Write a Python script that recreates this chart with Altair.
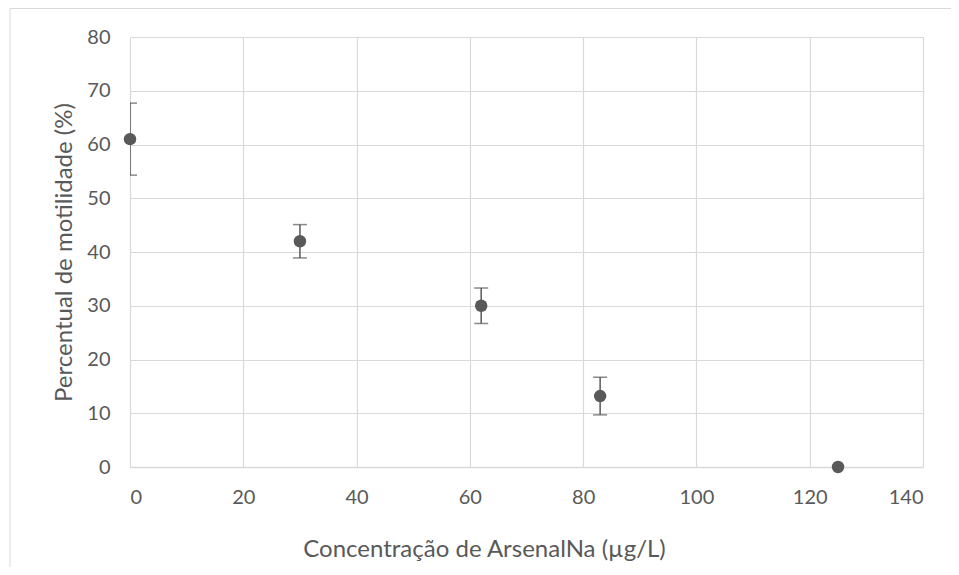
import altair as alt
import pandas as pd

conc = [0, 30, 62, 83, 125]
motil = [61, 42, 30, 13.2, 0]
err = [6.7, 3.1, 3.3, 3.5, 0]

df = pd.DataFrame({
    "conc": conc,
    "motil": motil,
    "lo": [m - e for m, e in zip(motil, err)],
    "hi": [m + e for m, e in zip(motil, err)],
})
df_err = df[df["conc"] < 120]

GRAY = "#595959"
FONT = "Lato"

x = alt.X("conc:Q", scale=alt.Scale(domain=[0, 140], nice=False),
          axis=alt.Axis(values=list(range(0, 141, 20)),
                        title="Concentração de ArsenalNa (µg/L)",
                        titleX=354))
y = alt.Y("motil:Q", scale=alt.Scale(domain=[0, 80], nice=False),
          axis=alt.Axis(values=list(range(0, 81, 10)),
                        title="Percentual de motilidade (%)"))

frame = alt.Chart(pd.DataFrame({"a": [0]})).mark_rect(
    fill=None, stroke="#d9d9d9", strokeWidth=1
).encode(x=alt.value(-120), x2=alt.value(900), y=alt.value(-28.5), y2=alt.value(700))

bars = alt.Chart(df_err).mark_rule(color=GRAY, strokeWidth=1.5, clip=True).encode(
    x=x, y=alt.Y("lo:Q"), y2="hi:Q")
caps_hi = alt.Chart(df_err).mark_tick(color=GRAY, thickness=1.5, size=14,
                                      orient="horizontal", clip=True).encode(
    x=x, y=alt.Y("hi:Q"))
caps_lo = alt.Chart(df_err).mark_tick(color=GRAY, thickness=1.5, size=14,
                                      orient="horizontal", clip=True).encode(
    x=x, y=alt.Y("lo:Q"))
pts = alt.Chart(df).mark_circle(color=GRAY, opacity=1, size=155).encode(x=x, y=y)

chart = alt.layer(frame, bars, caps_hi, caps_lo, pts).properties(
    width=793, height=430,
    autosize=alt.AutoSizeParams(type="none"),
    padding={"left": 122, "top": 29, "right": 28, "bottom": 100},
).configure_view(stroke=None).configure_axis(
    grid=True, gridColor="#d9d9d9", gridWidth=1.2,
    domain=False, ticks=False,
    labelFont=FONT, labelFontSize=20, labelColor=GRAY, labelPadding=20,
    titleFont=FONT, titleFontSize=24, titleColor=GRAY, titleFontWeight="normal",
).configure_axisX(titlePadding=30, domain=True, domainColor="#d9d9d9", domainWidth=1.5
).configure_axisY(titlePadding=10)

chart.save("out.html", embed_options={"renderer": "svg", "actions": False})
